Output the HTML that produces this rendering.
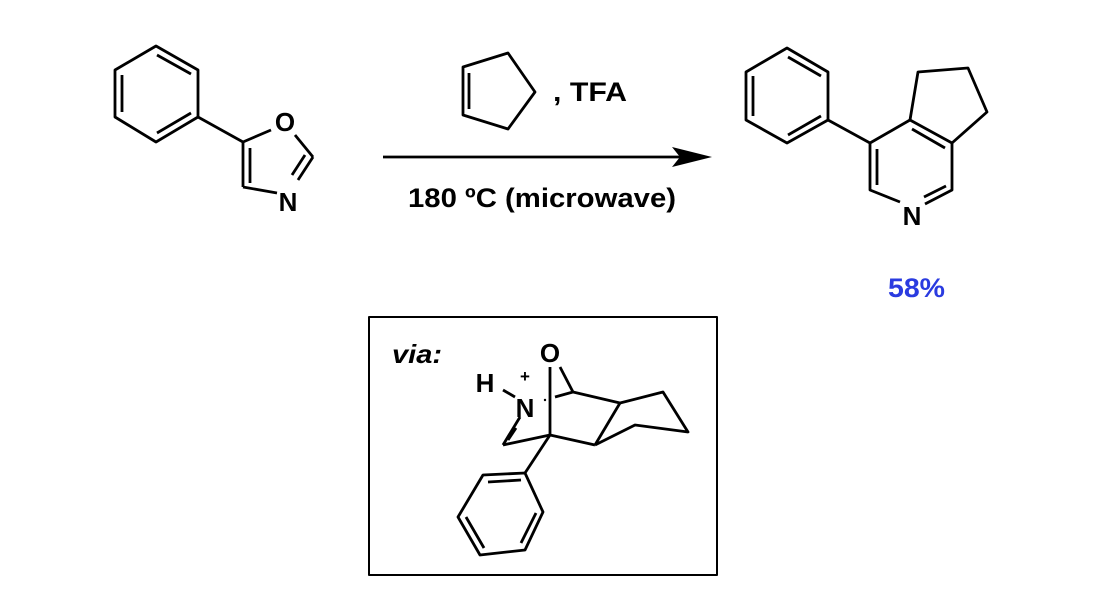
<!DOCTYPE html>
<html><head><style>body{margin:0;background:#fff}svg{display:block}</style></head><body>
<svg width="1109" height="610" viewBox="0 0 1109 610" xmlns="http://www.w3.org/2000/svg" font-family="Liberation Sans, sans-serif" font-weight="bold">
<g stroke="#000" stroke-width="2.8" fill="none" stroke-linejoin="round">
<polygon points="156,46 198,70 198,117 156,142 115,117 115,70"/>
<line x1="157" y1="55" x2="191" y2="74"/><line x1="191" y1="113" x2="157" y2="133"/><line x1="122" y1="75" x2="122" y2="112"/>
<line x1="198" y1="117" x2="243" y2="142"/>
<line x1="243" y1="142" x2="271" y2="130"/>
<line x1="295" y1="135" x2="313" y2="157"/>
<line x1="313" y1="157" x2="298" y2="180"/><line x1="305" y1="155" x2="292" y2="175"/>
<line x1="277" y1="193" x2="243" y2="187"/>
<line x1="243" y1="187" x2="243" y2="142"/><line x1="250" y1="183" x2="250" y2="148"/>
<polygon points="463,67 508,53 535,92 508,129 463,115"/>
<line x1="469" y1="73" x2="469" y2="109"/>
<line x1="383" y1="157" x2="680" y2="157"/>
<polygon points="787,48 828,72 828,120 787,143 746,120 746,72"/>
<line x1="788" y1="57" x2="821" y2="76"/><line x1="821" y1="116" x2="788" y2="135"/><line x1="753" y1="76" x2="753" y2="116"/>
<line x1="828" y1="120" x2="870" y2="143"/>
<polyline points="900,202 870,190 870,143 910,120 952,143 952,190 925,204"/>
<line x1="877" y1="149" x2="877" y2="185"/><line x1="912" y1="129" x2="945" y2="148"/><line x1="946" y1="186" x2="924" y2="197"/>
<polyline points="910,120 918,72 968,68 987,112 952,143"/>
<rect x="369" y="317" width="348" height="258" stroke-width="2"/>
<line x1="503" y1="390" x2="515" y2="397"/>
<line x1="550" y1="367" x2="550" y2="435"/>
<line x1="560" y1="367" x2="573" y2="392"/>
<line x1="555" y1="397" x2="573" y2="392"/>
<line x1="573" y1="392" x2="620" y2="403"/>
<polyline points="620,403 663,392 688,432 635,425 595,445"/>
<line x1="620" y1="403" x2="595" y2="445"/>
<line x1="595" y1="445" x2="550" y2="435"/>
<line x1="520" y1="417" x2="503" y2="445"/><line x1="516" y1="428" x2="508" y2="440"/>
<line x1="503" y1="445" x2="550" y2="435"/>
<line x1="550" y1="435" x2="525" y2="473"/>
<polygon points="525,473 543,512 525,550 480,555 458,517 483,475"/>
<line x1="488" y1="482" x2="521" y2="480"/><line x1="536" y1="513" x2="521" y2="543"/><line x1="484" y1="548" x2="466" y2="517"/>
</g>
<polygon points="712,157 672,147 680,157 672,167" fill="#000"/>
<g font-size="26" fill="#000">
<text x="285" y="131" text-anchor="middle">O</text>
<text x="288" y="211" text-anchor="middle">N</text>
<text x="912" y="225" text-anchor="middle">N</text>
<text x="553" y="101" font-size="27" textLength="74" lengthAdjust="spacingAndGlyphs">, TFA</text>
<text x="408" y="207" font-size="27" textLength="268" lengthAdjust="spacingAndGlyphs">180 ºC (microwave)</text>
<text x="888" y="297" font-size="27" fill="#2a3be0" textLength="57" lengthAdjust="spacingAndGlyphs">58%</text>
<text x="392" y="363" font-style="italic" font-size="26" textLength="50" lengthAdjust="spacingAndGlyphs">via:</text>
<text x="550" y="362" text-anchor="middle">O</text>
<text x="485" y="392" text-anchor="middle">H</text>
<text x="525" y="417" text-anchor="middle">N</text>
<text x="525" y="382" text-anchor="middle" font-size="17">+</text>
</g>
<circle cx="545" cy="400" r="1.2" fill="#000"/>
</svg>
</body></html>
